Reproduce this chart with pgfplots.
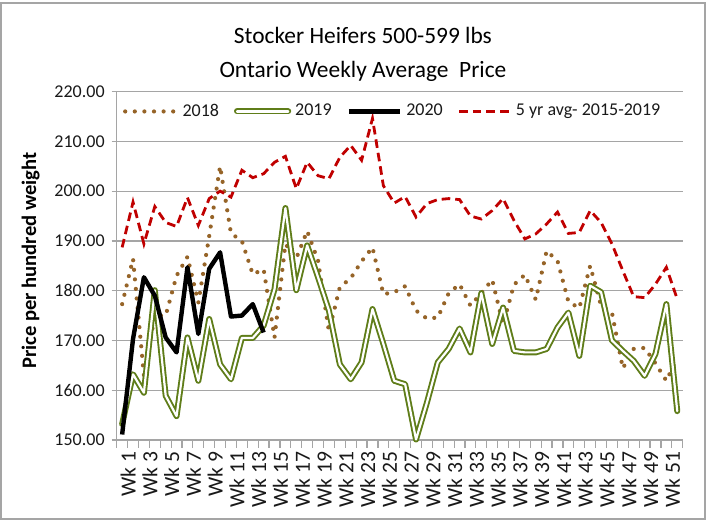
\documentclass[border=0pt]{standalone}
\usepackage{pgfplots}
\pgfplotsset{compat=1.18}
\usepackage{fontspec}
\setmainfont{Carlito}
\definecolor{c18}{RGB}{150,100,40}
\definecolor{c19}{RGB}{95,125,25}
\definecolor{c5y}{RGB}{192,0,0}
\definecolor{gridc}{RGB}{165,165,165}
\definecolor{txt}{RGB}{25,25,25}
\begin{document}
\begin{tikzpicture}
\useasboundingbox (0,0) rectangle (356pt,261.5pt);
\draw[gridc, line width=0.6pt] (0.5pt,2pt) rectangle (352.5pt,260pt);
\begin{axis}[
  at={(58.35pt,41.5pt)}, anchor=south west,
  scale only axis, width=283pt, height=174.2pt,
  xmin=0.5, xmax=52.5, ymin=150, ymax=220,
  ytick={150,160,...,220},
  /pgf/number format/fixed, /pgf/number format/fixed zerofill, /pgf/number format/precision=2,
  /pgf/number format/assume math mode=true,
  ymajorgrids, grid style={gridc, line width=0.6pt},
  axis x line*=bottom, axis y line*=left,
  axis line style={gridc, line width=0.7pt},
  tick align=outside,
  major tick length=2.5pt, minor tick length=4pt,
  major tick style={gridc, line width=0.6pt},
  major x tick style={draw=none},
  minor x tick style={gridc, line width=0.6pt},
  xtick={1,3,...,51},
  xticklabels={Wk 1,Wk 3,Wk 5,Wk 7,Wk 9,Wk 11,Wk 13,Wk 15,Wk 17,Wk 19,Wk 21,Wk 23,Wk 25,Wk 27,Wk 29,Wk 31,Wk 33,Wk 35,Wk 37,Wk 39,Wk 41,Wk 43,Wk 45,Wk 47,Wk 49,Wk 51},
  minor xtick={0.5,1.5,...,52.5},
  xticklabel style={rotate=90, anchor=east, font=\fontsize{10.8}{12}\selectfont, text=txt, yshift=-3pt},
  yticklabel style={font=\fontsize{9}{10}\selectfont, text=txt},
  ylabel={\textbf{Price per hundred weight}},
  ylabel style={at={(axis description cs:-0.152,0.515)}, anchor=center, font=\fontsize{10.3}{12}\selectfont, text=black},
  legend columns=4,
  legend style={at={(0.0,0.943)}, anchor=west, draw=none, fill=none,
    font=\fontsize{9}{10}\selectfont, text=txt,
    /tikz/every even column/.append style={column sep=5.5pt}},
  legend image code/.code={\draw[#1] (0cm,0cm) -- (0.9cm,0cm);},
  clip=false,
]
\addplot[c18, line width=2.1pt, line cap=round, dash pattern=on 0pt off 4.8pt] coordinates {
(1,177.3)(2,186.4)(3,163)(4,175)(5,175)(6,183)(7,186.8)(8,177.6)(9,191)(10,205)
(11,191.5)(12,190)(13,183.3)(14,184.3)(15,170.6)(16,189.4)(17,186.5)(18,192)(19,186)(20,171.8)
(21,180.7)(22,182.5)(23,185.9)(24,188.7)(25,179.3)(26,179.7)(27,180.9)(28,176)(29,174.4)(30,174.6)
(31,179.5)(32,181.3)(33,177)(34,179.5)(35,182.2)(36,173.2)(37,181.2)(38,183.2)(39,178.2)(40,188)
(41,186)(42,177.8)(43,176.5)(44,185)(45,177)(46,175.6)(47,164.4)(48,168.3)(49,168.5)(50,165.4)
(51,161.9)(52,166.6)};
\addlegendentry{2018}
\addplot[c19, line width=0.95pt, double=white, double distance=1.1pt, line join=round, line cap=round] coordinates {
(1,153.2)(2,163.2)(3,159.5)(4,180.1)(5,158.9)(6,154.8)(7,170.6)(8,161.9)(9,174.3)(10,165.2)
(11,162.2)(12,170.5)(13,170.5)(14,173)(15,180.3)(16,196.6)(17,180.1)(18,189.1)(19,182.7)(20,176)
(21,165.2)(22,162.2)(23,165.6)(24,176.3)(25,169.3)(26,161.9)(27,161.2)(28,150.1)(29,157.5)(30,165.6)
(31,168.3)(32,172.4)(33,167.6)(34,179.5)(35,169.3)(36,176.6)(37,167.9)(38,167.6)(39,167.6)(40,168.3)
(41,172.6)(42,175.6)(43,166.9)(44,181)(45,179.7)(46,170)(47,167.9)(48,165.9)(49,162.9)(50,167.3)
(51,177.3)(52,155.8)};
\addlegendentry{2019}
\addplot[black, line width=2.2pt, line join=round] coordinates {
(1,151.1)(2,170.3)(3,182.7)(4,179)(5,170.6)(6,167.6)(7,184.7)(8,171.3)(9,184.4)(10,187.7)
(11,174.8)(12,175)(13,177.3)(14,171.6)};
\addlegendentry{2020}
\addplot[c5y, line width=1.4pt, dash pattern=on 4.3pt off 2.5pt] coordinates {
(1,188.7)(2,197.8)(3,189.4)(4,196.9)(5,193.7)(6,192.9)(7,198.7)(8,193.1)(9,198.5)(10,200)
(11,198.8)(12,204.2)(13,202.7)(14,203.5)(15,205.8)(16,207)(17,200.5)(18,205.8)(19,203.1)(20,202.5)
(21,206.8)(22,209.2)(23,206.2)(24,214.6)(25,201.1)(26,197.6)(27,198.9)(28,194.8)(29,197.5)(30,198.3)
(31,198.5)(32,198.3)(33,195)(34,194.4)(35,196.1)(36,198.5)(37,194.1)(38,190.4)(39,191.4)(40,193.4)
(41,195.8)(42,191.5)(43,191.7)(44,196.1)(45,193.7)(46,189.4)(47,184)(48,178.8)(49,178.6)(50,181.3)
(51,184.7)(52,178.3)};
\addlegendentry{5 yr avg- 2015-2019}
\node[font=\fontsize{11.7}{17}\selectfont, align=center, text=black] at (axis description cs:0.435,1.107)
  {Stocker Heifers 500-599 lbs\\Ontario Weekly Average\ \ Price};
\end{axis}
\end{tikzpicture}
\end{document}
